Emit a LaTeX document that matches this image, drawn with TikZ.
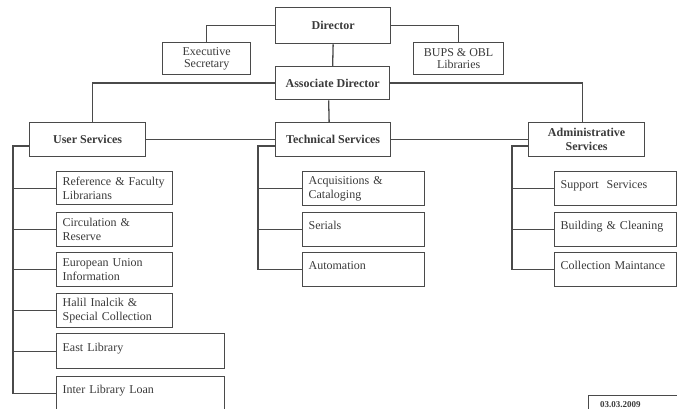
\documentclass[tikz,border=0pt]{standalone}
\usepackage{fontspec}
\setmainfont{Liberation Serif}
\definecolor{linec}{HTML}{4A4A4A}
\definecolor{txt}{HTML}{3A3A3A}
\newcommand{\chartfont}{\fontsize{12}{14}\selectfont}
\newcommand{\tightfont}{\fontsize{12}{12}\selectfont}
\begin{document}
\begin{tikzpicture}[x=1pt,y=-1pt,
  box/.style={draw=linec, line width=1.3pt, rectangle, anchor=north west,
    inner xsep=0pt, inner ysep=0pt, text=txt, font=\chartfont},
  head/.style={box, align=center, font=\chartfont\bfseries},
  side/.style={box, align=center, font=\tightfont},
  leaf/.style={box, align=left, inner xsep=6pt},
  oneline/.style={text height=8pt, text depth=8pt},
  wire/.style={draw=linec, line width=1.3pt}]
\useasboundingbox (0,0) rectangle (677,409);

% top management
\node[head, minimum width=115, minimum height=36] (dir) at (275,7) {Director};
\node[side, minimum width=88, minimum height=32] (exec) at (162,42) {Executive\\Secretary};
\node[side, minimum width=90, minimum height=32] (bups) at (413,42) {BUPS \& OBL\\Libraries};
\node[head, minimum width=114, minimum height=33] (assoc) at (275,66) {Associate Director};

% divisions
\node[head, minimum width=116, minimum height=34] (us) at (29,122) {User Services};
\node[head, minimum width=115, minimum height=34] (tech) at (275,122) {Technical Services};
\node[head, minimum width=116, minimum height=34] (adm) at (528,122) {Administrative\\Services};

% user services units
\node[leaf, text width=104, minimum height=33] (ref) at (56,171) {Reference \& Faculty\\Librarians};
\node[leaf, text width=104, minimum height=34] (circ) at (56,212) {Circulation \&\\Reserve};
\node[leaf, text width=104, minimum height=34] (eu) at (56,252) {European Union\\Information};
\node[leaf, text width=104, minimum height=34] (halil) at (56,293) {Halil Inalcik \&\\Special Collection};
\node[leaf, oneline, text width=156, minimum height=35] (east) at (56,333) {East Library};
\node[leaf, oneline, text width=156, minimum height=34] (ill) at (56,376) {Inter Library Loan};

% technical services units
\node[leaf, text width=110, minimum height=34] (acq) at (302,171) {Acquisitions \&\\Cataloging};
\node[leaf, oneline, text width=110, minimum height=34] (ser) at (302,212) {Serials};
\node[leaf, oneline, text width=110, minimum height=34] (auto) at (302,252) {Automation};

% administrative services units
\node[leaf, oneline, text width=110, minimum height=34] (sup) at (554,171) {Support\ \ Services};
\node[leaf, oneline, text width=110, minimum height=34] (bld) at (554,212) {Building \& Cleaning};
\node[leaf, oneline, text width=110, minimum height=34] (col) at (554,252) {Collection Maintance};

% date stamp
\node[box, minimum width=100, minimum height=30] (date) at (588,395) {};
\node[anchor=base west, inner sep=0pt, text=txt, font=\fontsize{9}{9}\selectfont\bfseries] (datetxt) at (600,407.5) {03.03.2009};

% spine end points
\coordinate (usS) at (13,146);
\coordinate (techS) at (258,146);
\coordinate (admS) at (512,146);

% top connectors
\draw[wire] (dir.west) -| (exec.north);
\draw[wire] (dir.east) -| (bups.north);
\draw[wire] (dir.south) -- (assoc.north);
\draw[wire] (assoc.west) -| ([xshift=5pt]us.north);
\draw[wire] (assoc.east) -| ([xshift=-4pt]adm.north);
\draw[wire] ([xshift=-4pt]assoc.south) -- ([xshift=-4pt]tech.north);
\draw[wire] (us.east) -- (tech.west);
\draw[wire] (tech.east) -- (adm.west);

% spines with their branches
\draw[wire] (us.west |- usS) -- (usS) |- (ill.west);
\draw[wire] (tech.west |- techS) -- (techS) |- (auto.west);
\draw[wire] (adm.west |- admS) -- (admS) |- (col.west);
\foreach \n in {ref,circ,eu,halil,east}
  \draw[wire] (\n.west) -- (\n.west -| usS);
\foreach \n in {acq,ser}
  \draw[wire] (\n.west) -- (\n.west -| techS);
\foreach \n in {sup,bld}
  \draw[wire] (\n.west) -- (\n.west -| admS);
\end{tikzpicture}
\end{document}
